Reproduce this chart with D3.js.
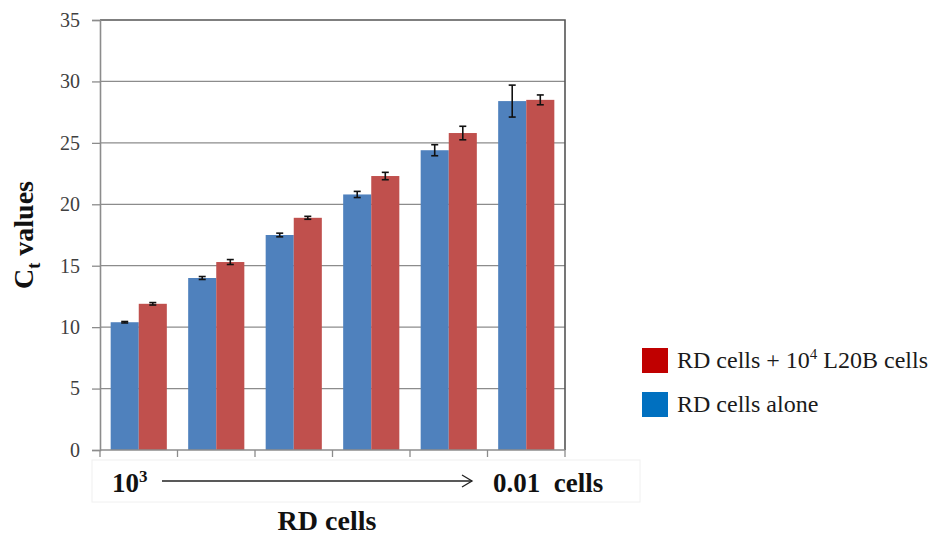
<!DOCTYPE html>
<html>
<head>
<meta charset="utf-8">
<script src="https://cdn.jsdelivr.net/npm/d3@7"></script>
<style>
  body { margin: 0; background: #fff; }
  svg text { font-family: "Liberation Serif", "DejaVu Serif", "Times New Roman", serif !important; }
</style>
</head>
<body>
<svg id="chart" width="935" height="537"></svg>
<script>
// dilution steps, 10^3 down to 0.01 cells
const groups = ["1e3", "1e2", "1e1", "1e0", "1e-1", "1e-2"];
const seriesNames = ["RD cells alone", "RD cells + 10⁴ L20B cells"];
const aloneValues = [10.4, 14.0, 17.5, 20.8, 24.4, 28.4];
const aloneErrors = [0.06, 0.12, 0.15, 0.25, 0.45, 1.3];
const mixValues = [11.9, 15.3, 18.9, 22.3, 25.8, 28.5];
const mixErrors = [0.1, 0.2, 0.12, 0.3, 0.55, 0.4];
const yTicks = [0, 5, 10, 15, 20, 25, 30, 35];

const barColors = ["#4F81BD", "#C0504D"];
const legendColors = ["#0070C0", "#C00000"];

const svg = d3.select('#chart');
const plotLeft = 100, plotRight = 565, plotTop = 20, plotBottom = 450;

const x = d3.scaleBand().domain(groups).range([plotLeft, plotRight]).paddingInner(0).paddingOuter(0);
const inner = d3.scaleBand().domain([0, 1]).range([0, x.bandwidth()]).paddingOuter(0.38).paddingInner(0);
const y = d3.scaleLinear().domain([0, 35]).range([plotBottom, plotTop]);

// gridlines
svg.append('g')
  .selectAll('line')
  .data(yTicks.filter(d => d > 0 && d < 35))
  .join('line')
  .attr('x1', plotLeft).attr('x2', plotRight)
  .attr('y1', d => y(d)).attr('y2', d => y(d))
  .attr('stroke', '#8c8c8c').attr('stroke-width', 1.3);

// top and right frame
svg.append('path')
  .attr('d', `M${plotLeft},${y(35)}H${plotRight}V${plotBottom}`)
  .attr('fill', 'none').attr('stroke', '#555').attr('stroke-width', 1.6);

// y axis
let yAxis = svg.append('g')
  .attr('transform', `translate(${plotLeft},0)`)
  .call(d3.axisLeft(y).tickValues(yTicks).tickSize(8).tickPadding(12));
yAxis.select('.domain').attr('stroke', '#8c8c8c').attr('stroke-width', 1.6);
yAxis.selectAll('.tick line').attr('stroke', '#8c8c8c').attr('stroke-width', 1.3);
yAxis.selectAll('.tick text')
  .attr('font-size', 20).attr('fill', '#404040');

// bars
const series = [
  { values: aloneValues, errors: aloneErrors },
  { values: mixValues, errors: mixErrors },
];

series.forEach((s, si) => {
  let g = svg.append('g');
  g.selectAll('rect')
    .data(groups)
    .join('rect')
    .attr('x', d => x(d) + inner(si))
    .attr('width', inner.bandwidth())
    .attr('y', (d, i) => y(s.values[i]))
    .attr('height', (d, i) => plotBottom - y(s.values[i]))
    .attr('fill', barColors[si]);
});

// x axis (category boundaries)
let xAxis = svg.append('g').attr('transform', `translate(0,${plotBottom})`);
xAxis.append('line')
  .attr('x1', plotLeft).attr('x2', plotRight)
  .attr('stroke', '#8c8c8c').attr('stroke-width', 1.6);
xAxis.selectAll('.cat-tick')
  .data(groups.concat(['end']))
  .join('line')
  .attr('class', 'cat-tick')
  .attr('x1', (d, i) => plotLeft + i * x.step())
  .attr('x2', (d, i) => plotLeft + i * x.step())
  .attr('y1', 0).attr('y2', 7)
  .attr('stroke', '#8c8c8c').attr('stroke-width', 1.3);

// error bars
series.forEach((s, si) => {
  let g = svg.append('g').attr('stroke', '#111').attr('stroke-width', 1.6);
  groups.forEach((d, i) => {
    let cx = x(d) + inner(si) + inner.bandwidth() / 2;
    let hi = y(s.values[i] + s.errors[i]);
    let lo = y(s.values[i] - s.errors[i]);
    g.append('line').attr('x1', cx).attr('x2', cx).attr('y1', hi).attr('y2', lo);
    g.append('line').attr('x1', cx - 3.5).attr('x2', cx + 3.5).attr('y1', hi).attr('y2', hi);
    g.append('line').attr('x1', cx - 3.5).attr('x2', cx + 3.5).attr('y1', lo).attr('y2', lo);
  });
});

// faint box under the axis with the dilution arrow
svg.append('rect')
  .attr('x', 92).attr('y', 460).attr('width', 548).attr('height', 42)
  .attr('fill', 'none').attr('stroke', '#f0f0f0').attr('stroke-width', 1);

let start = svg.append('text')
  .attr('x', 112).attr('y', 492)
  .attr('font-size', 27).attr('font-weight', 'bold').attr('fill', '#111');
start.append('tspan').text('10');
start.append('tspan').attr('font-size', 17).attr('dy', -10).text('3');

svg.append('line')
  .attr('x1', 162).attr('x2', 472).attr('y1', 481).attr('y2', 481)
  .attr('stroke', '#222').attr('stroke-width', 1.3);
svg.append('path')
  .attr('d', 'M462,475L472,481L462,487')
  .attr('fill', 'none').attr('stroke', '#222').attr('stroke-width', 1.3);

svg.append('text')
  .attr('x', 493).attr('y', 492)
  .attr('font-size', 27).attr('font-weight', 'bold').attr('fill', '#111')
  .attr('xml:space', 'preserve')
  .text('0.01  cells');

svg.append('text')
  .attr('x', 327).attr('y', 530).attr('text-anchor', 'middle')
  .attr('font-size', 28).attr('font-weight', 'bold').attr('fill', '#111')
  .text('RD cells');

// y label
let ylab = svg.append('text')
  .attr('transform', `translate(33,${y(17.5)}) rotate(-90)`)
  .attr('text-anchor', 'middle')
  .attr('font-size', 28).attr('font-weight', 'bold').attr('fill', '#111');
ylab.append('tspan').text('C');
ylab.append('tspan').attr('font-size', 18).attr('dy', 7).text('t');
ylab.append('tspan').attr('dy', -7).text(' values');

// legend (red entry listed first)
const legendItems = [
  { name: seriesNames[1], color: legendColors[1] },
  { name: seriesNames[0], color: legendColors[0] },
];
let legend = svg.append('g');
legendItems.forEach((d, i) => {
  let row = legend.append('g').attr('transform', `translate(642,${348 + i * 44})`);
  row.append('rect').attr('width', 26).attr('height', 25).attr('fill', d.color);
  let t = row.append('text').attr('x', 35).attr('y', 20)
    .attr('font-size', 24).attr('fill', '#1a1a1a');
  if (i === 0) {
    t.append('tspan').text('RD cells + 10');
    t.append('tspan').attr('font-size', 15).attr('dy', -9).text('4');
    t.append('tspan').attr('dy', 9).text(' L20B cells');
  } else {
    t.text(d.name);
  }
});
</script>
</body>
</html>
